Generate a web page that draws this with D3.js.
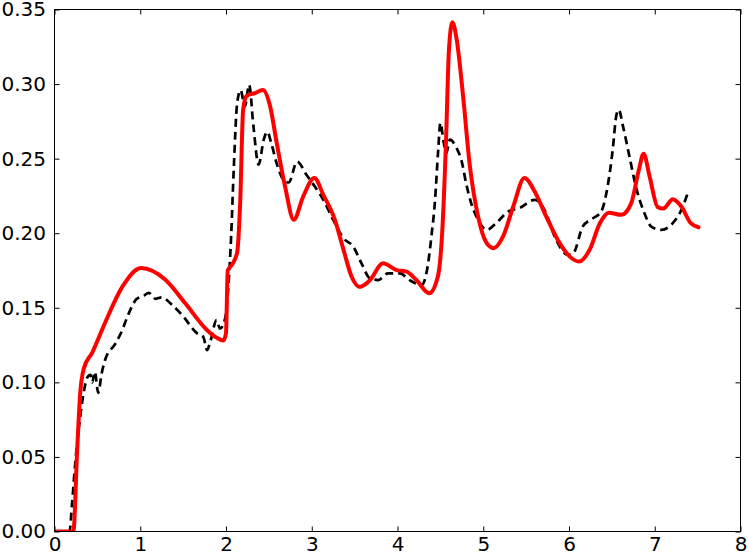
<!DOCTYPE html>
<html>
<head>
<meta charset="utf-8">
<script src="https://cdn.jsdelivr.net/npm/d3@7"></script>
<style>
  html, body { margin: 0; padding: 0; background: #fff; }
  svg { display: block; }
  .tick text { font-family: "DejaVu Sans", sans-serif; font-size: 20px; fill: #000; }
  .tick line { stroke: #000; stroke-width: 1; }
</style>
</head>
<body>
<script>
// ---- data ----
const xTicks = [0, 1, 2, 3, 4, 5, 6, 7, 8];
const yTicks = [0.00, 0.05, 0.10, 0.15, 0.20, 0.25, 0.30, 0.35];

const redX = [0, 0.22, 0.264, 0.30, 0.34, 0.44, 0.59, 0.79, 1.01, 1.29, 1.525, 1.78, 1.89, 1.97, 2.0, 2.02, 2.07, 2.13, 2.165, 2.20, 2.24, 2.34, 2.43, 2.515, 2.59, 2.69, 2.79, 2.90, 3.03, 3.135, 3.27, 3.37, 3.465, 3.56, 3.68, 3.83, 3.99, 4.105, 4.22, 4.37, 4.47, 4.525, 4.565, 4.60, 4.64, 4.69, 4.765, 4.84, 4.94, 5.04, 5.12, 5.23, 5.35, 5.48, 5.60, 5.735, 5.87, 6.01, 6.115, 6.24, 6.36, 6.465, 6.61, 6.725, 6.815, 6.87, 6.94, 7.035, 7.1, 7.21, 7.31, 7.42, 7.51];
const redY = [0, 0, 0.054, 0.093, 0.109, 0.120, 0.140, 0.164, 0.1767, 0.169, 0.153, 0.135, 0.130, 0.128, 0.133, 0.175, 0.179, 0.187, 0.220, 0.283, 0.292, 0.294, 0.296, 0.285, 0.261, 0.231, 0.209, 0.2246, 0.237, 0.2257, 0.209, 0.189, 0.1708, 0.164, 0.1686, 0.1798, 0.1753, 0.1742, 0.1686, 0.1597, 0.1708, 0.2044, 0.2605, 0.323, 0.3415, 0.330, 0.2918, 0.247, 0.2111, 0.1933, 0.190, 0.1977, 0.2179, 0.237, 0.228, 0.2111, 0.1955, 0.1843, 0.181, 0.1888, 0.2067, 0.2138, 0.2123, 0.220, 0.2425, 0.2533, 0.238, 0.2175, 0.2165, 0.2228, 0.2179, 0.2067, 0.204];

const blackX = [0, 0.175, 0.205, 0.245, 0.30, 0.353, 0.38, 0.42, 0.44, 0.47, 0.51, 0.55, 0.59, 0.71, 0.79, 0.85, 0.96, 1.04, 1.10, 1.18, 1.25, 1.37, 1.49, 1.66, 1.735, 1.78, 1.82, 1.89, 1.93, 1.99, 2.03, 2.06, 2.09, 2.13, 2.17, 2.22, 2.27, 2.32, 2.38, 2.44, 2.48, 2.53, 2.59, 2.67, 2.73, 2.83, 2.94, 3.04, 3.135, 3.25, 3.37, 3.485, 3.58, 3.68, 3.775, 3.89, 4.03, 4.14, 4.28, 4.34, 4.40, 4.435, 4.475, 4.50, 4.54, 4.57, 4.61, 4.69, 4.745, 4.80, 4.86, 4.94, 5.04, 5.15, 5.29, 5.42, 5.60, 5.715, 5.85, 5.99, 6.05, 6.16, 6.28, 6.375, 6.45, 6.51, 6.55, 6.58, 6.63, 6.705, 6.78, 6.88, 6.96, 7.075, 7.21, 7.31, 7.385];
const blackY = [0, 0, 0.019, 0.048, 0.077, 0.097, 0.103, 0.105, 0.100, 0.107, 0.093, 0.106, 0.115, 0.126, 0.135, 0.144, 0.156, 0.158, 0.160, 0.156, 0.157, 0.152, 0.145, 0.133, 0.1305, 0.1216, 0.128, 0.1417, 0.136, 0.143, 0.1664, 0.198, 0.2425, 0.287, 0.296, 0.285, 0.2996, 0.2716, 0.2459, 0.2627, 0.268, 0.260, 0.247, 0.2358, 0.234, 0.248, 0.239, 0.231, 0.2224, 0.209, 0.1966, 0.191, 0.1798, 0.1697, 0.1686, 0.1731, 0.1731, 0.1686, 0.1653, 0.174, 0.200, 0.220, 0.256, 0.274, 0.2605, 0.2537, 0.2627, 0.257, 0.249, 0.2336, 0.220, 0.209, 0.2022, 0.2067, 0.2145, 0.2168, 0.2224, 0.2156, 0.1955, 0.1854, 0.1865, 0.2044, 0.210, 0.2145, 0.2313, 0.256, 0.2783, 0.2828, 0.2716, 0.2514, 0.2313, 0.2134, 0.2044, 0.2022, 0.2067, 0.2156, 0.2269];

// ---- layout ----
const W = 748, H = 553;
const L = 54.5, R = 740.5, T = 9.5, B = 531.5;

const svg = d3.select("body").append("svg").attr("width", W).attr("height", H);

const x = d3.scaleLinear().domain([0, 8]).range([L, R]);
const y = d3.scaleLinear().domain([0, 0.35]).range([B, T]);

svg.append("clipPath").attr("id", "clip")
  .append("rect").attr("x", L).attr("y", T).attr("width", R - L).attr("height", B - T);

const line = d3.line().x(d => x(d[0])).y(d => y(d[1])).curve(d3.curveMonotoneX);

const blackData = blackX.map((v, i) => [v, blackY[i]]);
const redData = redX.map((v, i) => [v, redY[i]]);

const g = svg.append("g").attr("clip-path", "url(#clip)");
g.append("path").datum(blackData).attr("d", line)
  .attr("fill", "none").attr("stroke", "#000").attr("stroke-width", 2.7)
  .attr("stroke-dasharray", "8,5");
g.append("path").datum(redData).attr("d", line)
  .attr("fill", "none").attr("stroke", "#ff0000").attr("stroke-width", 4)
  .attr("stroke-linejoin", "round").attr("stroke-linecap", "round");

// axes (ticks inward on all sides)
const ax = (gen, tx, ty) => {
  const a = svg.append("g").attr("transform", `translate(${tx},${ty})`).call(gen);
  a.select(".domain").remove();
  return a;
};
ax(d3.axisBottom(x).tickValues(xTicks).tickFormat(d3.format("d")).tickSizeInner(-5).tickSizeOuter(0).tickPadding(5), 0, B);
ax(d3.axisTop(x).tickValues(xTicks).tickFormat("").tickSizeInner(-5).tickSizeOuter(0), 0, T);
ax(d3.axisLeft(y).tickValues(yTicks).tickFormat(d3.format(".2f")).tickSizeInner(-5).tickSizeOuter(0).tickPadding(8.5), L, 0);
ax(d3.axisRight(y).tickValues(yTicks).tickFormat("").tickSizeInner(-5).tickSizeOuter(0), R, 0);

svg.append("rect").attr("x", L).attr("y", T).attr("width", R - L).attr("height", B - T)
  .attr("fill", "none").attr("stroke", "#000").attr("stroke-width", 1);
</script>
</body>
</html>
